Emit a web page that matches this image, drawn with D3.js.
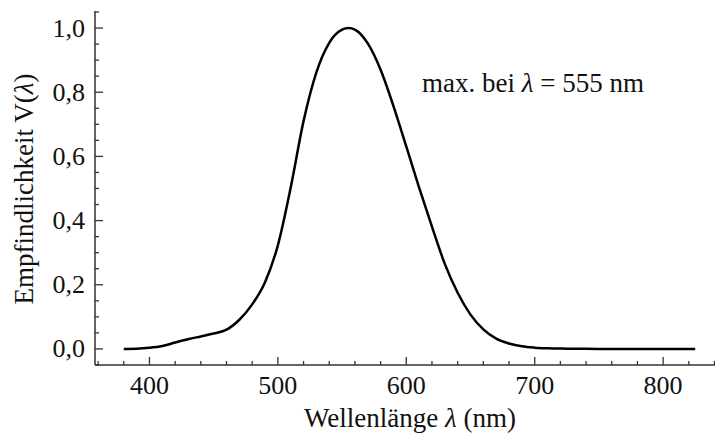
<!DOCTYPE html>
<html><head><meta charset="utf-8">
<script src="https://cdn.jsdelivr.net/npm/d3@7"></script>
<style>body{margin:0;background:#fff}</style>
</head><body>
<svg id="c" width="715" height="435"></svg>
<script>
const wavelengths = [380,390,400,410,420,430,440,450,460,470,480,490,500,510,520,530,540,550,555,560,570,580,590,600,610,620,630,640,650,660,670,680,690,700,710,720,730,740,750,760,780,800,825];
const sensitivity = [0.0002,0.0008,0.0035,0.009,0.02,0.03,0.039,0.048,0.06,0.091,0.139,0.208,0.323,0.503,0.71,0.862,0.954,0.995,1.0,0.995,0.952,0.87,0.757,0.631,0.503,0.381,0.265,0.175,0.107,0.061,0.032,0.017,0.0082,0.0041,0.0021,0.00105,0.0005,0.00025,0.00012,0.00006,0.00001,0.0,0.0];
const xTicks = [400,500,600,700,800];
const yTicks = [0,0.2,0.4,0.6,0.8,1.0];
const yTickLabels = ["0,0","0,2","0,4","0,6","0,8","1,0"];
const xLabel = "Wellenlänge ";
const yLabel = "Empfindlichkeit V(";
const annotation = "max. bei ";

const svg = d3.select("#c");
const font = "'Liberation Serif','Times New Roman',serif";
const fs = 26, fsL = 27;
const x = d3.scaleLinear().domain([357.6, 840.4]).range([95, 715]);
const y = d3.scaleLinear().domain([-0.05, 1.05]).range([365, 12]);

// curve
const data = wavelengths.map((w,i)=>({w, v: sensitivity[i]}));
svg.append("path").datum(data)
  .attr("fill","none").attr("stroke","#000").attr("stroke-width",2.5)
  .attr("stroke-linejoin","round")
  .attr("d", d3.line().x(d=>x(d.w)).y(d=>y(d.v)).curve(d3.curveMonotoneX));

// axes
const axC = "#333";
svg.append("line").attr("x1",95).attr("x2",715).attr("y1",365).attr("y2",365).attr("stroke",axC).attr("stroke-width",1.5);
svg.append("line").attr("x1",95).attr("x2",95).attr("y1",11).attr("y2",365).attr("stroke",axC).attr("stroke-width",1.5);

// x ticks
const xMinor = d3.range(360, 841, 20);
svg.selectAll(".xm").data(xMinor).enter().append("line")
  .attr("x1",d=>x(d)).attr("x2",d=>x(d)).attr("y1",365)
  .attr("y2",d=> d%100===0 ? 357 : 361).attr("stroke",axC).attr("stroke-width",1.3);
svg.selectAll(".xl").data(xTicks).enter().append("text")
  .attr("x",d=>x(d)).attr("y",394).attr("text-anchor","middle")
  .attr("font-family",font).attr("font-size",fs).attr("fill","#111").text(d=>d);

// y ticks
const yMinor = d3.range(0, 23).map(i => -0.05 + i*0.05);
svg.selectAll(".ym").data(yMinor).enter().append("line")
  .attr("y1",d=>y(d)).attr("y2",d=>y(d)).attr("x1",95)
  .attr("x2",(d)=> Math.abs(Math.round(d*20)%4)===0 ? 103 : 99).attr("stroke",axC).attr("stroke-width",1.3);
svg.selectAll(".yl").data(yTicks).enter().append("text")
  .attr("x",85).attr("y",d=>y(d)+8.5).attr("text-anchor","end")
  .attr("font-family",font).attr("font-size",fs).attr("fill","#111").text((d,i)=>yTickLabels[i]);

// axis labels
const xl = svg.append("text").attr("x",410).attr("y",427).attr("text-anchor","middle")
  .attr("font-family",font).attr("font-size",fsL).attr("fill","#111");
xl.append("tspan").text(xLabel);
xl.append("tspan").attr("font-style","italic").text("λ");
xl.append("tspan").text(" (nm)");

const yl = svg.append("text").attr("transform","translate(33,189) rotate(-90)").attr("text-anchor","middle")
  .attr("font-family",font).attr("font-size",fsL).attr("fill","#111");
yl.append("tspan").text(yLabel);
yl.append("tspan").attr("font-style","italic").text("λ");
yl.append("tspan").text(")");

// annotation
const an = svg.append("text").attr("x",422).attr("y",92)
  .attr("font-family",font).attr("font-size",fsL).attr("fill","#111");
an.append("tspan").text(annotation);
an.append("tspan").attr("font-style","italic").text("λ");
an.append("tspan").text(" = 555 nm");
</script>
</body></html>
